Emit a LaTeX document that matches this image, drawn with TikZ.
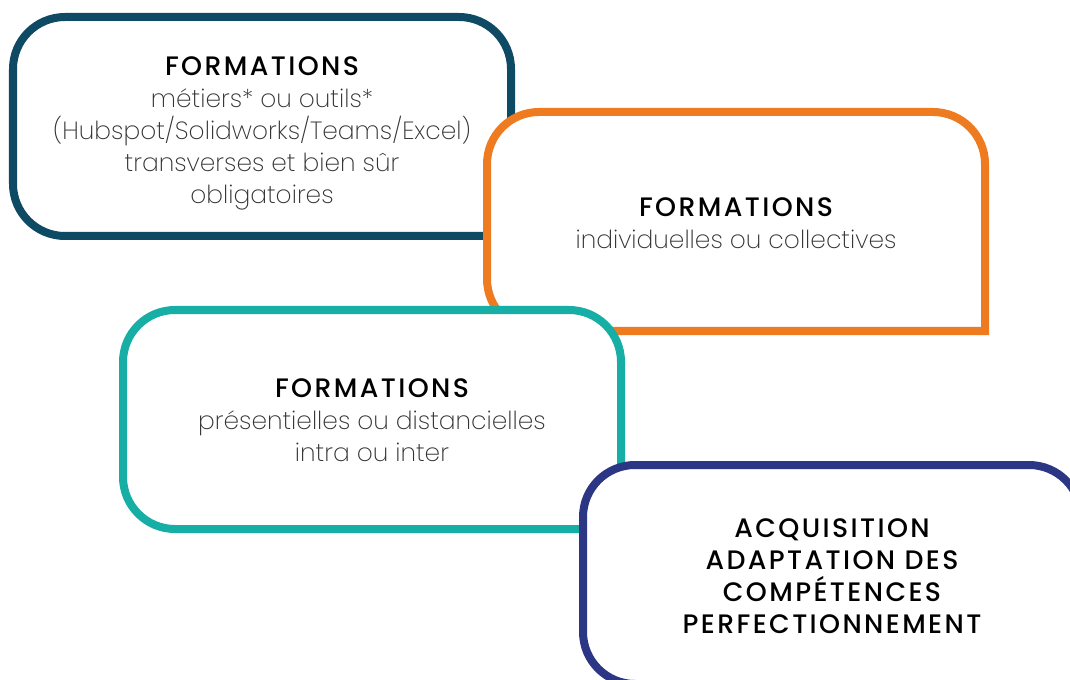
\documentclass[tikz,border=0pt]{standalone}
\usepackage{fontspec}
\setmainfont{Poppins}[UprightFont=* ExtraLight, BoldFont=* Medium]
\newfontfamily\titrefont{Poppins Medium}[LetterSpace=9]
\definecolor{bleuF}{RGB}{14,74,99}
\definecolor{orangeF}{RGB}{239,123,32}
\definecolor{vertF}{RGB}{22,174,165}
\definecolor{marineF}{RGB}{43,55,132}
\definecolor{grisF}{RGB}{50,50,50}
\tikzset{
  cadre/.style={line width=0.2cm,fill=white},
  texte/.style={align=center,text=grisF,font=\fontsize{17.7}{22.7}\selectfont},
}
\newcommand{\titre}[1]{{\titrefont\color{black}\fontsize{19}{22.7}\selectfont #1}}
% carte: coin bas-gauche (x,y), couleur, nom
\newcommand{\carte}[4]{%
\draw[cadre,draw=#3](#1+498,#2)--(#1+52,#2)arc(270:180:52)--(#1,#2+219-52)arc(180:90:52)--(#1+498-52,#2+219)arc(90:0:52)--cycle;
\coordinate(#4)at(#1+249,#2+109.5);}
\begin{document}
\begin{tikzpicture}[x=0.025cm,y=0.025cm]
\useasboundingbox(0,0)rectangle(1070,679);
\carte{13}{443}{bleuF}{kA}
\node[texte,yshift=-0.18cm](tA)at(kA){\titre{FORMATIONS}\\métiers* ou outils*\\(Hubspot/Solidworks/Teams/Excel)\\transverses et bien sûr\\obligatoires};
\carte{487}{348}{orangeF}{kB}
\node[texte,yshift=-0.04cm](tB)at(kB){\titre{FORMATIONS}\\individuelles ou collectives};
\carte{123}{150}{vertF}{kC}
\node[texte,yshift=-0.02cm](tC)at(kC){\titre{FORMATIONS}\\présentielles ou distancielles\\intra ou inter};
\carte{583}{-5}{marineF}{kD}
\node[texte,yshift=-0.05cm](tD)at(kD){\titre{ACQUISITION}\\\titre{ADAPTATION DES}\\\titre{COMPÉTENCES}\\\titre{PERFECTIONNEMENT}};
\end{tikzpicture}
\end{document}
